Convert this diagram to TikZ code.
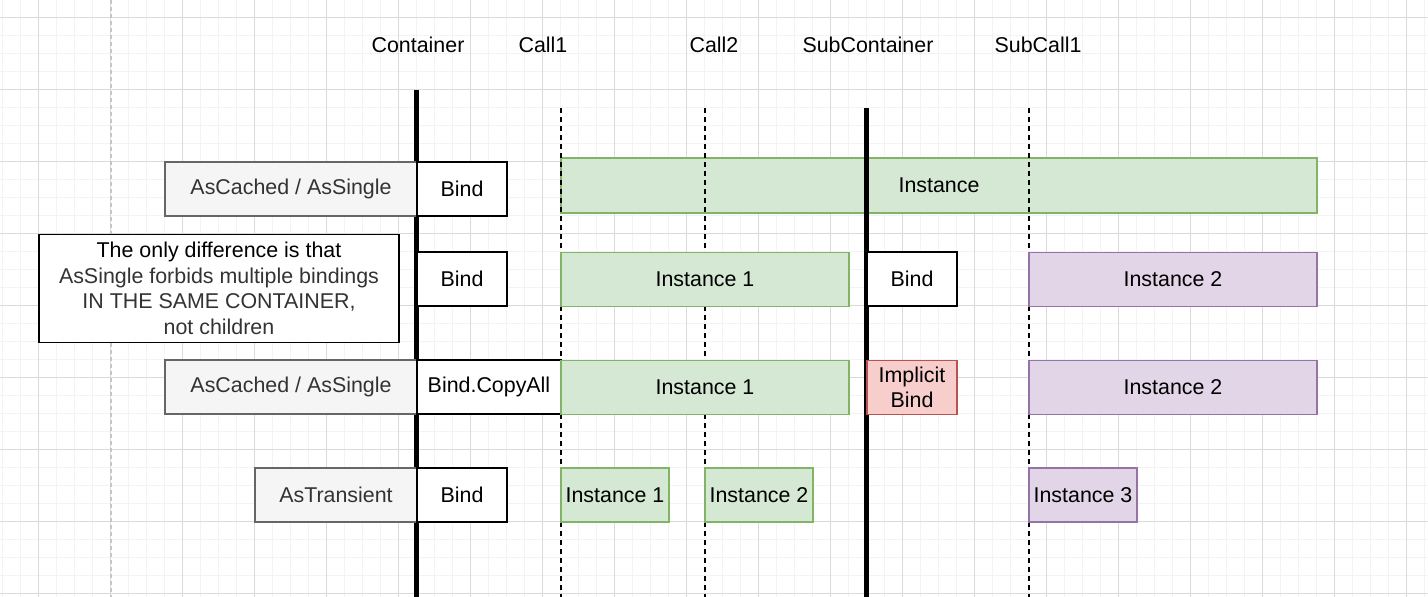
\documentclass[tikz,border=0pt]{standalone}
\usepackage{fontspec}
\setmainfont{Liberation Sans}
\definecolor{gridminor}{HTML}{F3F3F3}
\definecolor{gridmajor}{HTML}{DADADA}
\definecolor{greyfill}{HTML}{F5F5F5}
\definecolor{greydraw}{HTML}{666666}
\definecolor{greytext}{HTML}{333333}
\definecolor{greenfill}{HTML}{D5E8D4}
\definecolor{greendraw}{HTML}{82B366}
\definecolor{purplefill}{HTML}{E1D5E7}
\definecolor{purpledraw}{HTML}{9673A6}
\definecolor{redfill}{HTML}{F8CECC}
\definecolor{reddraw}{HTML}{B85450}
\begin{document}
\begin{tikzpicture}[x=1pt,y=-1pt,
  every node/.style={font=\fontsize{21.4}{25.5}\selectfont, inner sep=0pt},
  boxbase/.style={draw, line width=1.5pt, minimum height=54pt, align=center},
  greybox/.style={boxbase, fill=greyfill, draw=greydraw, text=greytext},
  whitebox/.style={boxbase, fill=white, draw=black, text=black},
  greenbox/.style={boxbase, fill=greenfill, draw=greendraw},
  purplebox/.style={boxbase, fill=purplefill, draw=purpledraw},
  redbox/.style={boxbase, fill=redfill, draw=reddraw},
  notebox/.style={draw=black, line width=1.5pt, fill=white, align=center, minimum width=360pt, minimum height=108pt},
  lifeline/.style={line width=5pt, black},
  callline/.style={line width=1.6pt, black, dash pattern=on 5pt off 4pt},
  toplabel/.style={text=black}
]
\useasboundingbox (0,0) rectangle (1428,597);
\fill[white] (0,0) rectangle (1428,597);
% grid
\begin{scope}
\clip (0,0) rectangle (1428,597);
\foreach \gx in {2,20,...,1430} \draw[gridminor, line width=1pt] (\gx,0) -- (\gx,597);
\foreach \gy in {-1,17,...,600} \draw[gridminor, line width=1pt] (0,\gy) -- (1428,\gy);
\foreach \gx in {38,110,...,1430} \draw[gridmajor, line width=1pt] (\gx,0) -- (\gx,597);
\foreach \gy in {17,89,...,600} \draw[gridmajor, line width=1pt] (0,\gy) -- (1428,\gy);
\draw[gray!45, line width=1.5pt, dash pattern=on 4pt off 3pt] (111,0) -- (111,597);
\end{scope}

% top labels
\node[toplabel] (lcont) at (418,45) {Container};
\node[toplabel] (lcall1) at (543,45) {Call1};
\node[toplabel] (lcall2) at (714,45) {Call2};
\node[toplabel] (lsub) at (868,45) {SubContainer};
\node[toplabel] (lsubcall) at (1038,45) {SubCall1};

% lifeline coordinates
\coordinate (ctop) at (416,90);   \coordinate (cbot) at (416,597);
\coordinate (c1top) at (561,108); \coordinate (c1bot) at (561,597);
\coordinate (c2top) at (705,108); \coordinate (c2bot) at (705,597);
\coordinate (stop) at (866,108);  \coordinate (sbot) at (866,597);
\coordinate (s1top) at (1029,108); \coordinate (s1bot) at (1029,597);

% row 1 instance (under the lines)
\node[greenbox, minimum width=756pt, minimum height=55pt] (r1inst) at (939,185.5) {Instance};

% lines
\draw[lifeline] (ctop) -- (cbot);
\draw[callline] (c1top) -- (c1bot);
\draw[callline] (c2top) -- (c2bot);
\draw[callline] (s1top) -- (s1bot);
\draw[lifeline] (stop) -- (sbot);

% row 1
\node[greybox, minimum width=252pt] (r1as) at (291,189) {AsCached / AsSingle};
\node[whitebox, minimum width=90pt] (r1bind) at (462,189) {Bind};

% row 2
\node[notebox] (note) at (219,288.5) {The only difference is that\\
  \textcolor{greytext}{AsSingle forbids multiple bindings}\\
  \textcolor{greytext}{IN THE SAME CONTAINER,}\\
  \textcolor{greytext}{not children}};
\node[whitebox, minimum width=90pt] (r2bind) at (462,279) {Bind};
\node[greenbox, minimum width=288pt] (r2inst1) at (705,279.5) {Instance 1};
\node[whitebox, minimum width=90pt] (r2bind2) at (912,279) {Bind};
\node[purplebox, minimum width=288pt] (r2inst2) at (1173,279.5) {Instance 2};

% row 3
\node[greybox, minimum width=252pt] (r3as) at (291,387) {AsCached / AsSingle};
\node[whitebox, minimum width=144pt] (r3bind) at (489,387) {Bind.CopyAll};
\node[greenbox, minimum width=288pt] (r3inst1) at (705,387.5) {Instance 1};
\node[redbox, minimum width=90pt, font=\fontsize{21.4}{25}\selectfont] (r3impl) at (912,387.5) {Implicit\\Bind};
\node[purplebox, minimum width=288pt] (r3inst2) at (1173,387.5) {Instance 2};

% row 4
\node[greybox, minimum width=162pt] (r4as) at (336,495) {AsTransient};
\node[whitebox, minimum width=90pt] (r4bind) at (462,495) {Bind};
\node[greenbox, minimum width=108pt] (r4inst1) at (615,495) {Instance 1};
\node[greenbox, minimum width=108pt] (r4inst2) at (759,495) {Instance 2};
\node[purplebox, minimum width=108pt] (r4inst3) at (1083,495) {Instance 3};
\end{tikzpicture}
\end{document}
